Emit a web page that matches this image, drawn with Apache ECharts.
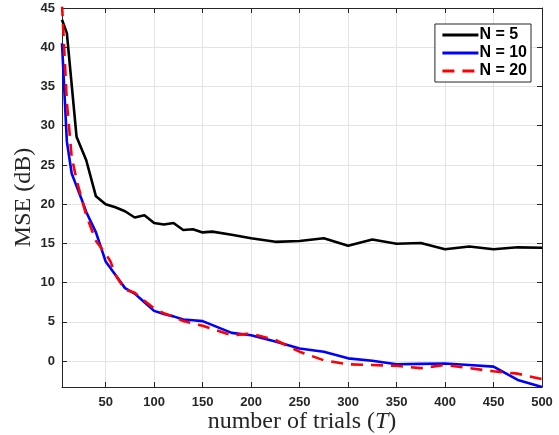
<!DOCTYPE html>
<html>
<head>
<meta charset="utf-8">
<script src="https://cdn.jsdelivr.net/npm/echarts@6/dist/echarts.min.js"></script>
<style>html,body{margin:0;padding:0;background:#fff}#c{width:559px;height:435px}</style>
</head>
<body>
<div id="c"></div>
<script>
const seriesNames = ['N = 5', 'N = 10', 'N = 20'];
const xN5 = [5,10,20,30,40,50,60,70,80,90,100,110,120,130,140,150,160,180,200,225,250,275,300,325,350,375,400,425,450,475,500];
const yN5 = [43.5,41.8,28.6,25.6,21.0,20.0,19.6,19.1,18.3,18.6,17.6,17.4,17.6,16.7,16.8,16.4,16.5,16.1,15.65,15.2,15.3,15.65,14.7,15.5,14.95,15.05,14.25,14.6,14.25,14.5,14.45];
const xN10 = [5,10,15,20,25,30,40,50,60,70,80,90,100,110,120,130,140,150,180,200,225,250,275,300,325,350,375,400,425,450,475,500];
const yN10 = [40.5,28.0,23.9,22.3,20.7,19.0,16.4,12.7,11.0,9.3,8.6,7.5,6.4,6.0,5.7,5.3,5.2,5.1,3.6,3.3,2.5,1.6,1.2,0.35,0.05,-0.4,-0.35,-0.3,-0.5,-0.7,-2.4,-3.3];
const xN20 = [5,10,15,20,25,30,40,45,50,55,60,70,80,90,100,110,120,130,140,150,180,200,225,250,275,300,325,350,375,400,425,450,475,500];
const yN20 = [45.5,33.0,26.0,23.1,20.8,18.6,15.3,14.5,13.7,12.7,11.0,9.1,8.7,7.7,6.7,6.1,5.65,5.1,4.8,4.5,3.3,3.5,2.7,1.2,0.1,-0.4,-0.5,-0.6,-0.9,-0.5,-0.9,-1.3,-1.6,-2.3];

const zip = (xs, ys) => xs.map((x, i) => [x, ys[i]]);
const tickFont = {fontFamily: 'Liberation Sans, Arial, sans-serif', fontWeight: 'bold', fontSize: 13, color: '#262626'};
const X_MIN = 5, X_MAX = 500, Y_MIN = -3.3, Y_MAX = 45;
const serif = 'Liberation Serif, DejaVu Serif, serif';

const chart = echarts.init(document.getElementById('c'), null, {renderer: 'canvas'});
const axisLineStyle = {show: true, onZero: false, lineStyle: {color: '#262626', width: 1}};
chart.setOption({
  animation: false,
  backgroundColor: '#fff',
  grid: {left: 62, right: 17, top: 8, bottom: 48, containLabel: false, outerBoundsMode: 'none'},
  legend: {
    data: seriesNames,
    orient: 'vertical',
    right: 28,
    top: 24,
    itemWidth: 36,
    itemHeight: 11,
    itemGap: 2,
    padding: [3, 4, 3, 6],
    borderColor: '#262626',
    borderWidth: 1,
    backgroundColor: '#fff',
    itemStyle: {opacity: 0},
    lineStyle: {width: 3},
    textStyle: {fontFamily: 'Liberation Sans, Arial, sans-serif', fontWeight: 'bold', fontSize: 16, color: '#000', padding: [0, 0, 0, -4]}
  },
  xAxis: [{
    type: 'value', min: X_MIN, max: X_MAX, splitNumber: 10,
    axisLine: axisLineStyle,
    axisTick: {show: true, inside: true, length: 5, lineStyle: {color: '#262626'}},
    axisLabel: Object.assign({showMinLabel: false, margin: 9}, tickFont),
    splitLine: {show: true, lineStyle: {color: '#e3e3e3', width: 1}},
    name: '{n|number of trials (}{i|T}{n|)}',
    nameLocation: 'middle',
    nameGap: 23,
    nameMoveOverlap: false,
    nameTextStyle: {rich: {
      n: {fontFamily: serif, fontSize: 24, color: '#262626'},
      i: {fontFamily: serif, fontSize: 24, fontStyle: 'italic', color: '#262626'}
    }}
  }, {
    type: 'value', min: X_MIN, max: X_MAX, splitNumber: 10, position: 'top',
    axisLine: axisLineStyle,
    axisTick: {show: true, inside: true, length: 5, lineStyle: {color: '#262626'}},
    axisLabel: {show: false}, splitLine: {show: false}
  }],
  yAxis: [{
    type: 'value', min: Y_MIN, max: Y_MAX, splitNumber: 10,
    axisLine: axisLineStyle,
    axisTick: {show: true, inside: true, length: 5, lineStyle: {color: '#262626'}},
    axisLabel: Object.assign({showMinLabel: false, margin: 7}, tickFont),
    splitLine: {show: true, lineStyle: {color: '#e3e3e3', width: 1}},
    name: 'MSE (dB)',
    nameLocation: 'middle',
    nameGap: 26,
    nameMoveOverlap: false,
    nameTextStyle: {fontFamily: serif, fontSize: 24, color: '#262626'}
  }, {
    type: 'value', min: Y_MIN, max: Y_MAX, splitNumber: 10, position: 'right',
    axisLine: axisLineStyle,
    axisTick: {show: true, inside: true, length: 5, lineStyle: {color: '#262626'}},
    axisLabel: {show: false}, splitLine: {show: false}
  }],
  series: [
    {name: seriesNames[0], type: 'line', data: zip(xN5, yN5), symbol: 'none', clip: true,
     lineStyle: {color: '#000', width: 2.6}, itemStyle: {color: '#000'}},
    {name: seriesNames[1], type: 'line', data: zip(xN10, yN10), symbol: 'none', clip: true,
     lineStyle: {color: '#0000ff', width: 2.6}, itemStyle: {color: '#0000ff'}},
    {name: seriesNames[2], type: 'line', data: zip(xN20, yN20), symbol: 'none', clip: true,
     lineStyle: {color: '#ff0000', width: 2.6, type: [12, 8]}, itemStyle: {color: '#ff0000'}}
  ]
});
</script>
</body>
</html>
